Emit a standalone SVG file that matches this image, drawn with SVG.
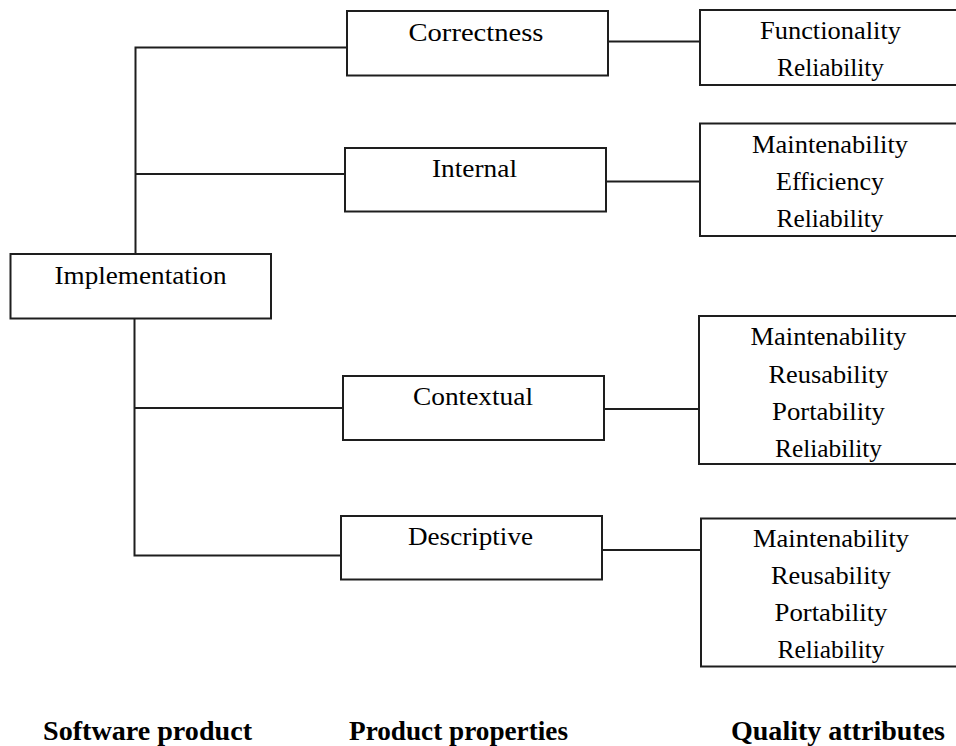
<svg xmlns="http://www.w3.org/2000/svg" width="956" height="746" viewBox="0 0 956 746">
  <style>
    .box { fill: #ffffff; stroke: #1e1e1e; stroke-width: 2; }
    .wire { fill: none; stroke: #1e1e1e; stroke-width: 2; }
    .lbl { font-family: 'Liberation Serif', 'Times New Roman', Times, 'DejaVu Serif', serif; font-size: 26px; fill: #000000; text-anchor: middle; }
    .cap { font-family: 'Liberation Serif', 'Times New Roman', Times, 'DejaVu Serif', serif; font-size: 28px; font-weight: bold; fill: #000000; }
  </style>
  <rect width="956" height="746" fill="#ffffff"/>

  <!-- connectors -->
  <g id="connectors">
    <path class="wire" d="M347 47.5 H135.5 V254"/>
    <path class="wire" d="M135.5 174 H345"/>
    <path class="wire" d="M134.5 318.5 V555.5 H341"/>
    <path class="wire" d="M134.5 408 H343"/>
    <path class="wire" d="M608 41.5 H700"/>
    <path class="wire" d="M606 181.5 H700"/>
    <path class="wire" d="M604 409 H699"/>
    <path class="wire" d="M602 550 H701"/>
  </g>

  <!-- software product -->
  <g id="implementation">
    <rect class="box" x="10.5" y="254" width="260.5" height="64.5"/>
    <text class="lbl" x="140.5" y="284" textLength="172" lengthAdjust="spacingAndGlyphs">Implementation</text>
  </g>

  <!-- product properties -->
  <g id="correctness">
    <rect class="box" x="347" y="11" width="261" height="64.5"/>
    <text class="lbl" x="476" y="41" textLength="135" lengthAdjust="spacingAndGlyphs">Correctness</text>
  </g>
  <g id="internal">
    <rect class="box" x="345" y="148" width="261" height="63.5"/>
    <text class="lbl" x="474.5" y="177" textLength="85" lengthAdjust="spacingAndGlyphs">Internal</text>
  </g>
  <g id="contextual">
    <rect class="box" x="343" y="376" width="261" height="64"/>
    <text class="lbl" x="473" y="405" textLength="120" lengthAdjust="spacingAndGlyphs">Contextual</text>
  </g>
  <g id="descriptive">
    <rect class="box" x="341" y="516" width="261" height="63.5"/>
    <text class="lbl" x="470.5" y="545" textLength="125" lengthAdjust="spacingAndGlyphs">Descriptive</text>
  </g>

  <!-- quality attributes -->
  <g id="attrs-correctness">
    <rect class="box" x="700" y="10" width="262" height="75"/>
    <text class="lbl" x="830.5" y="39" textLength="141" lengthAdjust="spacingAndGlyphs">Functionality</text>
    <text class="lbl" x="830.5" y="76" textLength="107" lengthAdjust="spacingAndGlyphs">Reliability</text>
  </g>
  <g id="attrs-internal">
    <rect class="box" x="700" y="123.5" width="262" height="112.5"/>
    <text class="lbl" x="830" y="153" textLength="156" lengthAdjust="spacingAndGlyphs">Maintenability</text>
    <text class="lbl" x="830" y="190" textLength="108" lengthAdjust="spacingAndGlyphs">Efficiency</text>
    <text class="lbl" x="830" y="227" textLength="107" lengthAdjust="spacingAndGlyphs">Reliability</text>
  </g>
  <g id="attrs-contextual">
    <rect class="box" x="699" y="316" width="263" height="148"/>
    <text class="lbl" x="828.5" y="345" textLength="156" lengthAdjust="spacingAndGlyphs">Maintenability</text>
    <text class="lbl" x="828.5" y="382.5" textLength="120" lengthAdjust="spacingAndGlyphs">Reusability</text>
    <text class="lbl" x="828.5" y="419.5" textLength="113" lengthAdjust="spacingAndGlyphs">Portability</text>
    <text class="lbl" x="828.5" y="456.5" textLength="107" lengthAdjust="spacingAndGlyphs">Reliability</text>
  </g>
  <g id="attrs-descriptive">
    <rect class="box" x="701" y="518.5" width="261" height="148"/>
    <text class="lbl" x="831" y="547" textLength="156" lengthAdjust="spacingAndGlyphs">Maintenability</text>
    <text class="lbl" x="831" y="584" textLength="120" lengthAdjust="spacingAndGlyphs">Reusability</text>
    <text class="lbl" x="831" y="621" textLength="113" lengthAdjust="spacingAndGlyphs">Portability</text>
    <text class="lbl" x="831" y="658" textLength="107" lengthAdjust="spacingAndGlyphs">Reliability</text>
  </g>

  <!-- column captions -->
  <g id="captions">
    <text class="cap" x="43" y="739.5" textLength="209" lengthAdjust="spacingAndGlyphs">Software product</text>
    <text class="cap" x="349" y="739.5" textLength="219" lengthAdjust="spacingAndGlyphs">Product properties</text>
    <text class="cap" x="731" y="740" textLength="214" lengthAdjust="spacingAndGlyphs">Quality attributes</text>
  </g>
</svg>
